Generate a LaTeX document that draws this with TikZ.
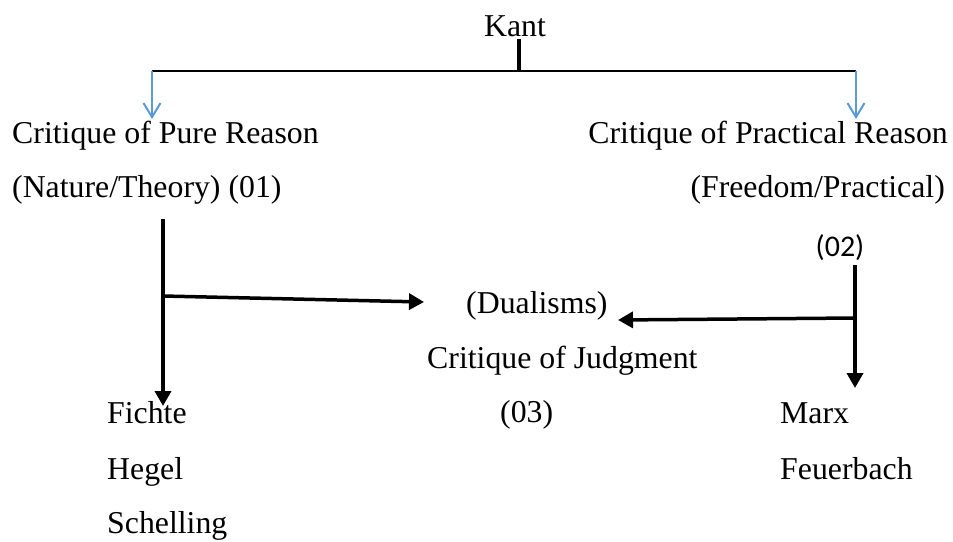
\documentclass[tikz,border=0pt]{standalone}
\usepackage{fontspec}
\setmainfont{Liberation Serif}
\newfontfamily\sansf{Carlito}
\usetikzlibrary{arrows.meta}
\definecolor{offblue}{HTML}{5B9BD5}
\begin{document}
\begin{tikzpicture}[x=1pt,y=-1pt,
  txt/.style={inner sep=0pt, font=\fontsize{31.8}{38}\selectfont},
  sanstxt/.style={inner sep=0pt, font=\sansf\fontsize{30}{36}\selectfont},
  heavy/.style={line width=3.5pt},
  heavyarrow/.style={line width=3.5pt, -{Triangle[length=15pt,width=16pt]}},
  thinline/.style={line width=1.5pt},
  bluearrow/.style={line width=2pt, offblue, -{Straight Barb[length=14pt,width=17pt]}}]
\useasboundingbox (0,0) rectangle (953,541);
% texts
\node[txt, anchor=base] (kant) at (515,36) {Kant};
\node[txt, anchor=base west] (cpr) at (12,143) {Critique of Pure Reason};
\node[txt, anchor=base west] (nat) at (12,197) {(Nature/Theory) (01)};
\node[txt, anchor=base east] (cpract) at (948,143) {Critique of Practical Reason};
\node[txt, anchor=base east] (free) at (945,197) {(Freedom/Practical)};
\node[sanstxt, anchor=center] (n02) at (840,248) {(02)};
\node[txt, anchor=base west] (dual) at (466,313) {(Dualisms)};
\node[txt, anchor=base west] (cj) at (427,368) {Critique of Judgment};
\node[txt, anchor=base west] (n03) at (500,422) {(03)};
\node[txt, anchor=base west] (fichte) at (107,423) {Fichte};
\node[txt, anchor=base west] (hegel) at (107,479) {Hegel};
\node[txt, anchor=base west] (schelling) at (107,533) {Schelling};
\node[txt, anchor=base west] (marx) at (780,423) {Marx};
\node[txt, anchor=base west] (feuer) at (780,479) {Feuerbach};
% junction coordinates
\coordinate (kj) at (519,71);
\coordinate (hl) at (152,71);
\coordinate (hr) at (856,71);
\coordinate (tl) at (152,119);
\coordinate (tr) at (856,119);
\coordinate (ltop) at (163,219);
\coordinate (lj) at (163,296);
\coordinate (lbot) at (163,406);
\coordinate (ltip) at (424,302);
\coordinate (rtop) at (855,265);
\coordinate (rj) at (855,318);
\coordinate (rbot) at (855,388);
\coordinate (rtip) at (618,320);
% connectors
\draw[heavy] (kant.south -| kj) ++(0,2) -- (kj);
\draw[thinline] (hl) -- (hr);
\draw[bluearrow] (hl) -- (tl);
\draw[bluearrow] (hr) -- (tr);
\draw[heavyarrow] (ltop) -- (lbot);
\draw[heavyarrow] (lj) -- (ltip);
\draw[heavyarrow] (rtop) -- (rbot);
\draw[heavyarrow] (rj) -- (rtip);
\end{tikzpicture}
\end{document}
